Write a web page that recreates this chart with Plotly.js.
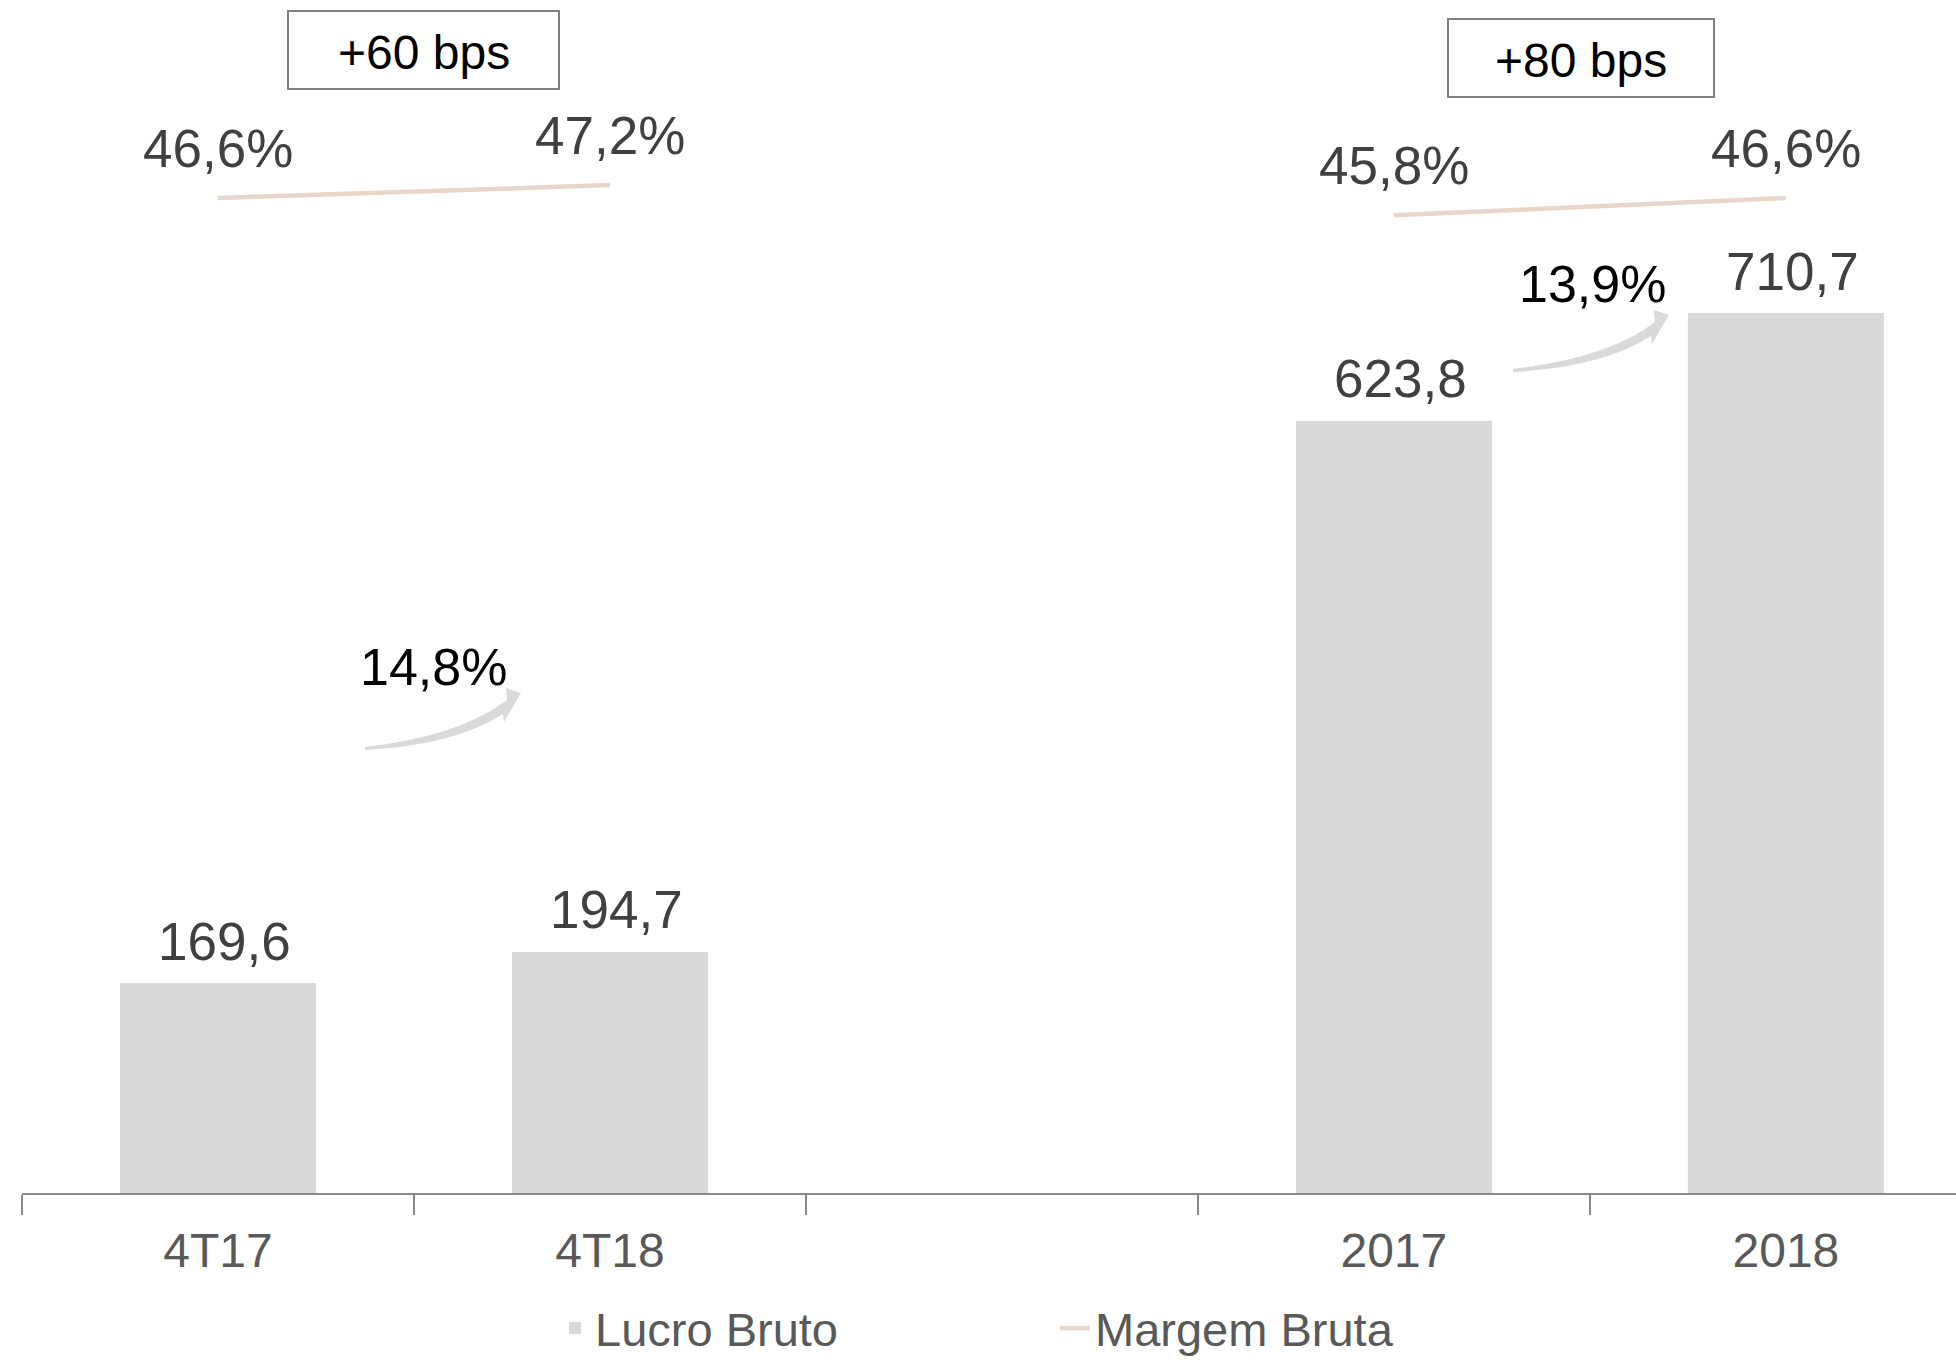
<!DOCTYPE html>
<html>
<head>
<meta charset="utf-8">
<script src="https://cdn.plot.ly/plotly-3.0.1.min.js"></script>
<style>html,body{margin:0;padding:0;background:#fff;}</style>
</head>
<body>
<div id="chart" style="width:1956px;height:1362px;"></div>
<script>
// ---- data ----
const categories = ["4T17", "4T18", " ", "2017", "2018"];
const barCategories = ["4T17", "4T18", "2017", "2018"];
const lucroBruto = [169.6, 194.7, 623.8, 710.7];
const margemCategories = ["4T17", "4T18", " ", "2017", "2018"];
const margemBruta = [46.6, 47.2, null, 45.8, 46.6];
const growthLabels = ["14,8%", "13,9%"];
const bpsLabels = ["+60 bps", "+80 bps"];
const seriesNames = ["Lucro Bruto", "Margem Bruta"];

// ---- geometry helpers (layout only) ----
const L = 22, W = 1934, B = 1193, H = 1193;
const px = x => (x - L) / W;
const py = y => (B - y) / H;
const FONT = "Liberation Sans, Arial, sans-serif";
const fmt = v => v.toFixed(1).replace('.', ',');
const catIndex = c => categories.indexOf(c);

function arrowPath(dx, dy) {
  const pts = [
    ['M', [365, 747]],
    ['Q', [460, 736], [507, 700]],
    ['L', [506, 688]],
    ['L', [521, 693]],
    ['L', [504, 722]],
    ['L', [503, 714]],
    ['Q', [455, 745], [365, 750]],
  ];
  let s = '';
  pts.forEach(p => {
    s += p[0];
    for (let i = 1; i < p.length; i++) {
      const X = p[i][0] + dx, Y = p[i][1] + dy;
      s += px(X).toFixed(5) + ',' + py(Y).toFixed(5) + ' ';
    }
  });
  return s + 'Z';
}

const traces = [
  {
    type: 'bar',
    name: seriesNames[0],
    x: barCategories,
    y: lucroBruto,
    marker: {color: '#D9D9D9'},
    hoverinfo: 'skip'
  },
  {
    type: 'scatter',
    mode: 'lines',
    name: seriesNames[1],
    x: margemCategories,
    y: margemBruta,
    yaxis: 'y2',
    connectgaps: false,
    line: {color: '#E8D6CB', width: 4.5},
    hoverinfo: 'skip'
  }
];

const annotations = [];
barCategories.forEach((c, i) => {
  annotations.push({
    x: catIndex(c), y: lucroBruto[i], xref: 'x', yref: 'y',
    text: fmt(lucroBruto[i]), showarrow: false,
    yanchor: 'middle', yshift: 42, xshift: 7,
    font: {family: FONT, size: 53, color: '#404040'}
  });
});
margemCategories.forEach((c, i) => {
  if (margemBruta[i] === null) return;
  annotations.push({
    x: catIndex(c), y: margemBruta[i], xref: 'x', yref: 'y2',
    text: fmt(margemBruta[i]) + '%', showarrow: false,
    yanchor: 'middle', yshift: 50,
    font: {family: FONT, size: 53, color: '#404040'}
  });
});
const growthPos = [[433, 667], [1592, 284]];
growthLabels.forEach((t, i) => {
  annotations.push({
    x: px(growthPos[i][0]), y: py(growthPos[i][1]), xref: 'paper', yref: 'paper',
    text: t, showarrow: false, xanchor: 'center', yanchor: 'middle',
    font: {family: FONT, size: 52, color: '#000000'}
  });
});
const boxes = [[288, 11, 559, 89], [1448, 19, 1714, 97]];
bpsLabels.forEach((t, i) => {
  const b = boxes[i];
  annotations.push({
    x: px((b[0] + b[2]) / 2), y: py((b[1] + b[3]) / 2 + 2), xref: 'paper', yref: 'paper',
    text: t, showarrow: false, xanchor: 'center', yanchor: 'middle',
    font: {family: FONT, size: 48, color: '#000000'}
  });
});

const shapes = [];
boxes.forEach(b => {
  shapes.push({
    type: 'rect', xref: 'paper', yref: 'paper',
    x0: px(b[0]), x1: px(b[2]), y0: py(b[3]), y1: py(b[1]),
    line: {color: '#7F7F7F', width: 2}, fillcolor: 'rgba(0,0,0,0)'
  });
});
[[0, 0], [1148, -378]].forEach(o => {
  shapes.push({
    type: 'path', xref: 'paper', yref: 'paper',
    path: arrowPath(o[0], o[1]),
    fillcolor: '#D9D9D9', line: {width: 0}
  });
});

const layout = {
  width: 1956, height: 1362,
  margin: {l: L, r: 0, t: 0, b: 1362 - B, autoexpand: false},
  paper_bgcolor: '#ffffff', plot_bgcolor: '#ffffff',
  separators: ',.',
  font: {family: FONT, color: '#595959'},
  bargap: 0.5,
  showlegend: true,
  legend: {
    orientation: 'h', x: px(555), xanchor: 'left',
    yref: 'container', y: (1362 - 1291) / 1362, yanchor: 'top',
    font: {family: FONT, size: 47, color: '#595959'},
    entrywidth: 455, entrywidthmode: 'pixels',
    bgcolor: 'rgba(0,0,0,0)', traceorder: 'normal'
  },
  xaxis: {
    type: 'category', categoryorder: 'array', categoryarray: categories,
    range: [-0.5, 4.434], fixedrange: true, automargin: false,
    showline: true, linecolor: '#898989', linewidth: 2,
    ticks: 'outside', tickson: 'boundaries', ticklen: 20, tickcolor: '#898989', tickwidth: 1.5,
    ticklabelstandoff: 14,
    tickfont: {family: FONT, size: 48, color: '#595959'},
    showgrid: false, zeroline: false
  },
  yaxis: {range: [0, 963.6], visible: false, showgrid: false, zeroline: false, fixedrange: true},
  yaxis2: {range: [0.32, 55.81], overlaying: 'y', side: 'right', visible: false, showgrid: false, zeroline: false, fixedrange: true},
  annotations: annotations,
  shapes: shapes,
  hovermode: false
};

Plotly.newPlot('chart', traces, layout, {displayModeBar: false, staticPlot: true});
</script>
</body>
</html>
